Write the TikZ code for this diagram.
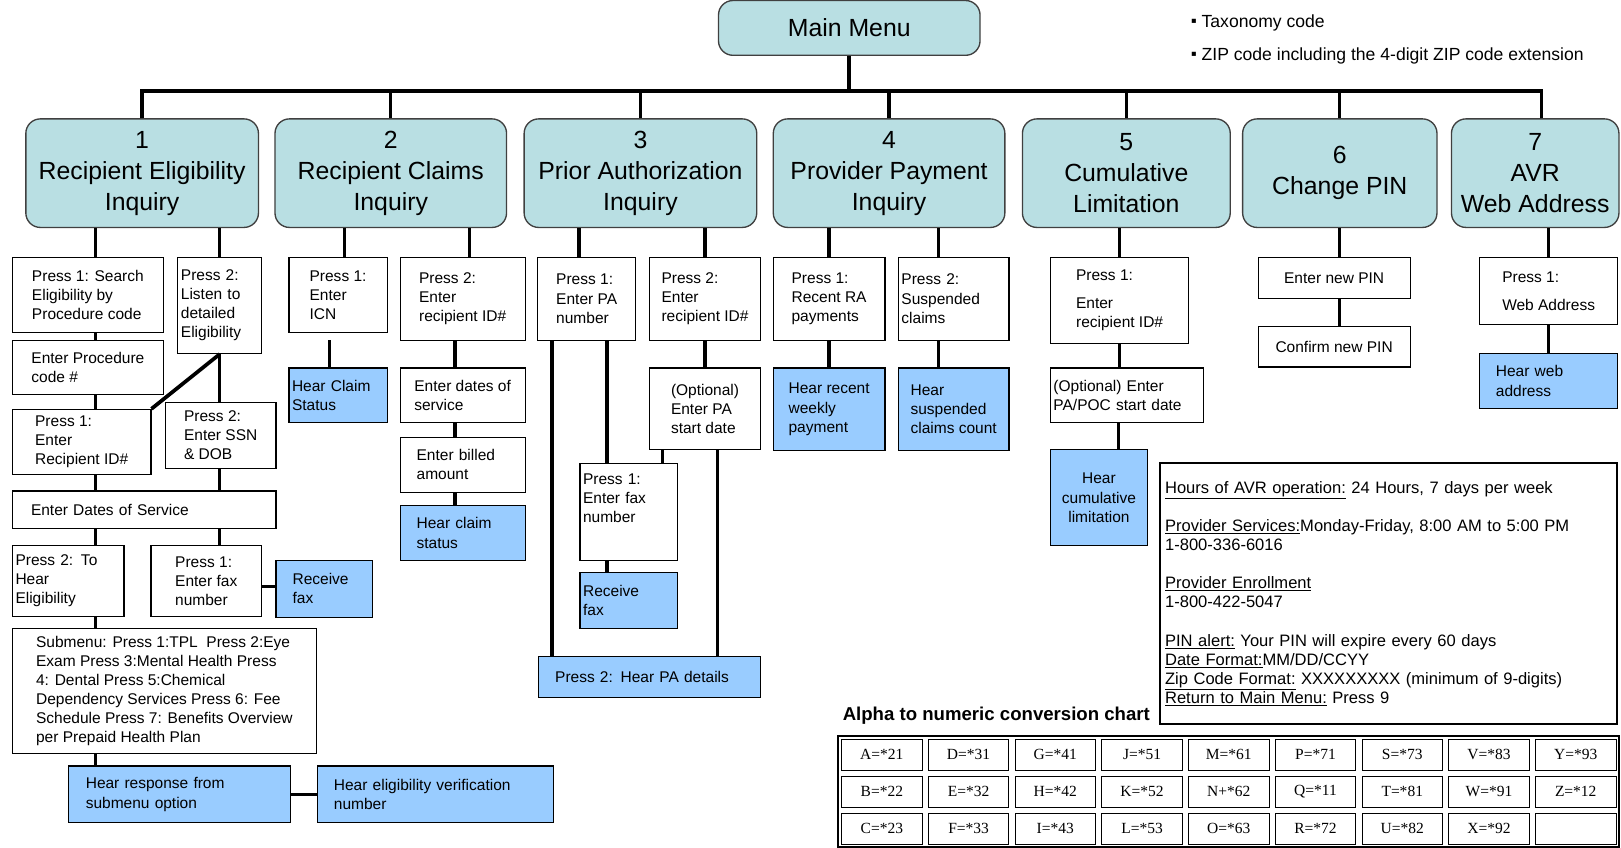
\documentclass[tikz,border=0pt]{standalone}
\usepackage{fontspec}
\setmainfont{Liberation Sans}
\newfontfamily\tablefont{Liberation Serif}
\newfontfamily\bulletfont{DejaVu Sans}
\usepackage{tikz}

\definecolor{menuteal}{RGB}{185,223,227}
\definecolor{hearblue}{RGB}{153,204,255}
\tikzset{sz/.style 2 args={minimum width=#1pt,minimum height=#2pt},tw/.style={text width=#1pt}}
\newcommand{\sqbullet}{\raisebox{3.5pt}{\bulletfont\fontsize{8}{8}\selectfont ▪}}

\begin{document}
\begin{tikzpicture}[x=1pt,y=-1pt,link/.style={line width=3.2pt}]
\tikzstyle{menu}=[draw=black!75,fill=menuteal,rounded corners=14pt,line width=1.3pt,align=center,font=\fontsize{24}{30}\selectfont,inner sep=0pt]
\tikzstyle{opt}=[draw=black,fill=white,line width=1.1pt,align=left,font=\fontsize{15}{18.5}\selectfont,inner sep=2pt]
\tikzstyle{hear}=[opt,fill=hearblue]
\tikzstyle{cell}=[draw=black,line width=0.8pt,sz={78}{30},font=\tablefont\fontsize{15}{15}\selectfont,inner sep=0pt]
\useasboundingbox (0,0) rectangle (1568,820);

% main menu and the seven options
\node[menu, sz={253}{53}] (main) at (821.5,27) {Main Menu};
\node[menu, sz={225}{105}] (m1) at (137.5,167.5) {1\\Recipient Eligibility\\Inquiry};
\node[menu, sz={224}{105}] (m2) at (378,167.5) {2\\Recipient Claims\\Inquiry};
\node[menu, sz={225}{105}] (m3) at (619.5,167.5) {3\\Prior Authorization\\Inquiry};
\node[menu, sz={224}{105}] (m4) at (860,167.5) {4\\Provider Payment\\Inquiry};
\node[menu, sz={201}{105}] (m5) at (1089.5,167.5) {5\\Cumulative\\Limitation};
\node[menu, sz={188}{105}] (m6) at (1296,167.5) {6\\Change PIN};
\node[menu, sz={162}{105}] (m7) at (1485,167.5) {7\\AVR\\Web Address};

\node[anchor=west, inner sep=0pt, font=\fontsize{17}{20}\selectfont] (tax) at (1152,22) {\sqbullet\ Taxonomy code};
\node[anchor=west, inner sep=0pt, font=\fontsize{17}{20}\selectfont] (zip) at (1152,54) {\sqbullet\ ZIP code including the 4-digit ZIP code extension};

% 1 recipient eligibility
\node[opt, sz={146}{73}] (srch) at (85,285.5) {Press 1: Search\\Eligibility by\\Procedure code};
\node[opt, sz={146}{53}] (proc) at (85,355.5) {Enter Procedure\\code \#};
\node[opt, sz={81}{93}, tw=75] (listen) at (212.5,295.5) {Press 2:\\Listen to\\detailed\\Eligibility};
\node[opt, sz={134}{63}] (rid) at (79,427.5) {Press 1:\\Enter\\Recipient ID\#};
\node[opt, sz={107}{64}] (ssn) at (213.5,421) {Press 2:\\Enter SSN\\\& DOB};
\node[opt, sz={255}{36}, tw=219] (dates) at (139.5,493) {Enter Dates of Service};
\node[opt, sz={108}{68}, tw=102] (hear2) at (66,562) {Press 2: To\\Hear\\Eligibility};
\node[opt, sz={107}{68}] (fax1) at (199.5,562) {Press 1:\\Enter fax\\number};
\node[hear, sz={93}{55}, tw=61] (rfax1) at (313.5,569.5) {Receive\\fax};
\node[opt, sz={294}{121}] (sub) at (159,668.5) {Submenu: Press 1:TPL\ \ Press 2:Eye\\Exam Press 3:Mental Health Press\\4: Dental Press 5:Chemical\\Dependency Services Press 6: Fee\\Schedule Press 7: Benefits Overview\\per Prepaid Health Plan};
\node[hear, sz={215}{55}, tw=181] (hresp) at (173.5,768.5) {Hear response from\\submenu option};
\node[hear, sz={228}{55}, tw=196] (hverif) at (421,768.5) {Hear eligibility verification\\number};

% 2 recipient claims
\node[opt, sz={95}{73}] (icn) at (327,285.5) {Press 1:\\Enter\\ICN};
\node[hear, sz={95}{53}, tw=89] (hcs) at (327,382.5) {Hear Claim\\Status};
\node[opt, sz={121}{80}] (crid) at (447.5,289) {Press 2:\\Enter\\recipient ID\#};
\node[opt, sz={121}{53}] (cdates) at (447.5,382.5) {Enter dates of\\service};
\node[opt, sz={121}{53}, tw=89] (billed) at (447.5,449.5) {Enter billed\\amount};
\node[hear, sz={121}{53}, tw=89] (hcs2) at (447.5,515.5) {Hear claim\\status};

% 3 prior authorization
\node[opt, sz={95}{80}] (pan) at (567.5,289) {Press 1:\\Enter PA\\number};
\node[opt, sz={108}{80}] (parid) at (682,289) {Press 2:\\Enter\\recipient ID\#};
\node[opt, sz={108}{79}] (paopt) at (682,395.5) {(Optional)\\Enter PA\\start date};
\node[opt, sz={94}{94}, tw=88] (pafax) at (608,495) {Press 1:\\Enter fax\\number\\[7.5pt]\mbox{}};
\node[hear, sz={94}{54}, tw=88] (parfax) at (608,581) {Receive\\fax};
\node[hear, sz={215}{40}, tw=183] (padet) at (628.5,655) {Press 2: Hear PA details};

% 4 provider payment
\node[opt, sz={108}{80}] (ra) at (802,289) {Press 1:\\Recent RA\\payments};
\node[opt, sz={107}{80}, tw=101] (susp) at (922.5,289) {Press 2:\\Suspended\\claims};
\node[hear, sz={108}{80}] (hra) at (802,396) {Hear recent\\weekly\\payment};
\node[hear, sz={107}{80}] (hsusp) at (922.5,396) {Hear\\suspended\\claims count};

% 5 cumulative limitation
\node[opt, sz={134}{83}] (cum1) at (1083,290.5) {Press 1:\\[9pt]Enter\\recipient ID\#};
\node[opt, sz={148}{53}, tw=142] (cumopt) at (1090,382.5) {(Optional) Enter\\PA/POC start date};
\node[hear, sz={94}{93}, align=center] (hcum) at (1063,481.5) {Hear\\cumulative\\limitation};

% 6 change pin, 7 web address
\node[opt, sz={147}{40}] (pin) at (1290.5,269) {Enter new PIN};
\node[opt, sz={147}{39}] (cpin) at (1290.5,335.5) {Confirm new PIN};
\node[opt, sz={134}{65}] (web) at (1498,281.5) {Press 1:\\[9pt]Web Address};
\node[hear, sz={134}{53}, tw=102] (hweb) at (1498,368.5) {Hear web\\address};

% notes
\node[opt, line width=2pt, sz={442}{252}, tw=432, font=\fontsize{16}{18.5}\selectfont] (info) at (1343,574) {\underline{Hours of AVR operation:} 24 Hours, 7 days per week\\[18.5pt]
\underline{Provider Services:}Monday-Friday, 8:00 AM to 5:00 PM\\
1-800-336-6016\\[18.5pt]
\underline{Provider Enrollment}\\
1-800-422-5047\\[18.5pt]
\underline{PIN alert:} Your PIN will expire every 60 days\\
\underline{Date Format:}MM/DD/CCYY\\
\underline{Zip Code Format:} XXXXXXXXX (minimum of 9-digits)\\
\underline{Return to Main Menu:} Press 9};

% conversion chart
\node[anchor=west, inner sep=0pt, font=\bfseries\fontsize{18}{20}\selectfont] (charttitle) at (815,692) {Alpha to numeric conversion chart};
\draw[line width=2pt] (811,712) rectangle (1566,819);
\foreach \chartval [count=\i from 0] in {A=*21,D=*31,G=*41,J=*51,M=*61,P=*71,S=*73,V=*83,Y=*93,
  B=*22,E=*32,H=*42,K=*52,N+*62,Q=*11,T=*81,W=*91,Z=*12,
  C=*23,F=*33,I=*43,L=*53,O=*63,R=*72,U=*82,X=*92,{}}
{
  \pgfmathsetmacro\col{int(mod(\i,9))}
  \pgfmathsetmacro\row{int(floor(\i/9))}
  \node[cell] (c\i) at ({853+83.9*\col},{730+35.7*\row}) {\chartval};
}

% connectors
\coordinate (busL) at (137.5,88);
\coordinate (busR) at (1491,88);
\draw[link, line width=3.8pt, line cap=rect] (busL) -- (busR);
\draw[link, line width=3.8pt] (main) -- (main |- busL);
\foreach \m in {m1,m2,m3,m4,m5,m6}
  \draw[link] (\m) -- (\m |- busL);
\draw[link] ([xshift=6pt]m7.north) -- ([xshift=6pt]m7.north |- busL);

\draw[link] ([xshift=7.5pt]srch.north) -- ([xshift=7.5pt]srch.north |- m1.south);
\draw[link] (listen) -- (listen |- m1.south);
\draw[link] ([xshift=7.5pt]srch.south) -- ([xshift=7.5pt]srch.south |- proc.north);
\draw[link] ([xshift=7.5pt]proc.south) -- ([xshift=7.5pt]proc.south |- rid.north);
\draw[line width=3.6pt] (listen.south) -- (rid.north east);
\draw[link] (listen.south) -- (listen.south |- ssn.north);
\draw[link] ([xshift=13.5pt]rid.south) -- ([xshift=13.5pt]rid.south |- dates.north);
\draw[link] ([xshift=-1pt]ssn.south) -- ([xshift=-1pt]ssn.south |- dates.north);
\draw[link] ([xshift=26.5pt]hear2.north) -- ([xshift=26.5pt]hear2.north |- dates.south);
\draw[link] ([xshift=13pt]fax1.north) -- ([xshift=13pt]fax1.north |- dates.south);
\draw[link] ([yshift=-5pt]fax1.east) -- ([yshift=-5pt]fax1.east -| rfax1.west);
\draw[link] ([xshift=26.5pt]hear2.south) -- ([xshift=26.5pt]hear2.south |- sub.north);
\draw[link] ([xshift=-81pt]hresp.north) -- ([xshift=-81pt]hresp.north |- sub.south);
\draw[link] (hresp) -- (hverif);

\draw[link] ([xshift=6pt]icn.north) -- ([xshift=6pt]icn.north |- m2.south);
\draw[link] ([xshift=-8pt]hcs.north) -- ([xshift=-8pt,yshift=-6pt]hcs.north |- icn.south);
\draw[link] ([xshift=6.5pt]crid.north) -- ([xshift=6.5pt]crid.north |- m2.south);
\draw[link] ([xshift=-7.5pt]crid.south) -- ([xshift=-7.5pt]crid.south |- cdates.north);
\draw[link] ([xshift=-7.5pt]cdates.south) -- ([xshift=-7.5pt]cdates.south |- billed.north);
\draw[link] ([xshift=-7.5pt]billed.south) -- ([xshift=-7.5pt]billed.south |- hcs2.north);

\draw[link] ([xshift=-7.5pt]pan.north) -- ([xshift=-7.5pt]pan.north |- m3.south);
\draw[link] (parid) -- (parid |- m3.south);
\draw[link] (parid) -- (paopt);
\draw[link] ([xshift=19.5pt]pan.south) -- ([xshift=19.5pt]pan.south |- pafax.north);
\draw[link] ([xshift=-33.5pt]pan.south) -- ([xshift=-33.5pt]pan.south |- padet.north);
\draw[link] ([xshift=-41pt]paopt.south) -- ([xshift=-41pt]paopt.south |- pafax.north);
\draw[link] ([xshift=12pt]paopt.south) -- ([xshift=12pt]paopt.south |- padet.north);
\draw[link] ([xshift=-21pt]pafax.south) -- ([xshift=-21pt]pafax.south |- parfax.north);

\draw[link] (ra) -- (ra |- m4.south);
\draw[link] (ra) -- (hra);
\draw[link] ([xshift=-14.5pt]susp.north) -- ([xshift=-14.5pt]susp.north |- m4.south);
\draw[link] ([xshift=-14.5pt]susp.south) -- ([xshift=-14.5pt]susp.south |- hsusp.north);

\draw[link] (cum1) -- (cum1 |- m5.south);
\draw[link] (cum1.south) -- (cum1.south |- cumopt.north);
\draw[link] ([xshift=19pt]hcum.north) -- ([xshift=19pt]hcum.north |- cumopt.south);

\draw[link] ([xshift=5.5pt]pin.north) -- ([xshift=5.5pt]pin.north |- m6.south);
\draw[link] ([xshift=5.5pt]pin.south) -- ([xshift=5.5pt]pin.south |- cpin.north);
\draw[link] (web) -- (web |- m7.south);
\draw[link] (web) -- (hweb);
\end{tikzpicture}
\end{document}
